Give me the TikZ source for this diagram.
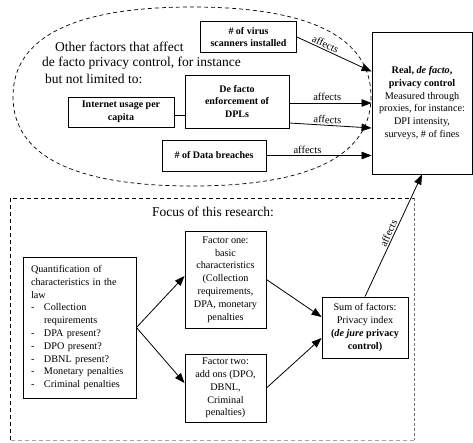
\documentclass[tikz,border=0pt]{standalone}
\usepackage{fontspec}
\setmainfont{Liberation Serif}
\usetikzlibrary{arrows.meta,calc}
\begin{document}
\begin{tikzpicture}[x=1pt,y=-1pt,
  box/.style={draw, line width=0.9pt, fill=white, inner sep=0pt, align=center},
  bbox/.style={box, font=\fontsize{10}{12.5}\selectfont\bfseries},
  rbox/.style={box, font=\fontsize{10.2}{12.8}\selectfont},
  arr/.style={line width=0.8pt, -{Triangle[length=10pt,width=7.5pt]}},
  lab/.style={font=\fontsize{10.5}{12}\selectfont, inner sep=1.5pt},
  big/.style={font=\fontsize{13.5}{16}\selectfont, inner sep=0pt, anchor=west},
  ell/.style={line width=0.7pt, dash pattern=on 4pt off 3pt},
]
\useasboundingbox (0,0) rectangle (473,442);

% dashed ellipse
\draw[ell] (371,96.5) .. controls (371,155.6) and (310.1,186) .. (192,186)
  .. controls (73.9,186) and (13,155.6) .. (13,96.5)
  .. controls (13,37.4) and (73.9,7) .. (192,7)
  .. controls (310.1,7) and (371,37.4) .. (371,96.5) -- cycle;

% text inside ellipse
\node[big] (o1) at (55,47) {Other factors that affect};
\node[big] (o2) at (42,63) {de facto privacy control, for instance};
\node[big] (o3) at (45,79) {but not limited to:};

% top boxes
\node[bbox, minimum width=96pt, minimum height=31pt] (virus) at (248.5,37) {\# of virus\\scanners installed};
\node[bbox, minimum width=104pt, minimum height=53pt] (defacto) at (237,101.5) {De facto\\enforcement of\\DPLs};
\node[bbox, minimum width=106pt, minimum height=30pt] (internet) at (121,112) {Internet usage per\\capita};
\node[bbox, minimum width=104pt, minimum height=31pt] (breaches) at (214,155.5) {\# of Data breaches};
\node[rbox, minimum width=100pt, minimum height=142pt] (real) at (422,103)
  {\textbf{Real, \textit{de facto},}\\\textbf{privacy control}\\Measured through\\proxies, for instance:\\DPI intensity,\\surveys, \# of fines};

% helper coordinates
\coordinate (ie) at ($(internet.east)+(0,3)$);
\coordinate (iw) at (ie -| defacto.west);
\coordinate (d1) at ($(defacto.east)+(0,1.5)$);
\coordinate (r1) at (d1 -| real.west);
\coordinate (d2) at ($(defacto.east)+(0,21.5)$);
\coordinate (r2) at ($(real.west)+(0,25)$);
\coordinate (r0) at ($(real.north west)+(0,40)$);
\coordinate (r3) at (breaches.east -| real.west);

% top connectors
\draw[line width=0.8pt] (ie) -- (iw);
\draw[arr] (virus.east) -- node[lab, sloped, above, pos=0.35] (l1) {affects} (r0);
\draw[arr] (d1) -- node[lab, above, pos=0.46] (l2) {affects} (r1);
\draw[arr] (d2) -- node[lab, sloped, above, pos=0.46] (l3) {affects} (r2);
\draw[arr] (breaches.east) -- node[lab, above, pos=0.39] (l4) {affects} (r3);

% focus dashed rectangle
\draw[line width=0.7pt, dash pattern=on 4pt off 3pt] (10,440) -- (10,198) -- (414,198);
\draw[line width=0.8pt, black!55, dash pattern=on 3pt off 2pt] (414,198) -- (414,440);
\draw[line width=0.7pt, black!35, dash pattern=on 4pt off 3pt] (414,440) -- (10,440);
\node[font=\fontsize{13.5}{16}\selectfont, inner sep=0pt] (focus) at (213,212) {Focus of this research:};

% bottom boxes
\node[rbox, align=left, text width=97pt, inner xsep=8pt, minimum height=141pt] (quant) at (79.5,327.5)
  {Quantification of\\characteristics in the\\law\\
   \makebox[13pt][l]{-}Collection\\
   \hspace*{13pt}requirements\\
   \makebox[13pt][l]{-}DPA present?\\
   \makebox[13pt][l]{-}DPO present?\\
   \makebox[13pt][l]{-}DBNL present?\\
   \makebox[13pt][l]{-}Monetary penalties\\
   \makebox[13pt][l]{-}Criminal penalties};
\node[rbox, minimum width=81pt, minimum height=97pt] (f1) at (225.5,279.5)
  {Factor one:\\basic\\characteristics\\(Collection\\requirements,\\DPA, monetary\\penalties};
\node[rbox, minimum width=81pt, minimum height=68pt] (f2) at (225.5,388)
  {Factor two:\\add ons (DPO,\\DBNL,\\Criminal\\penalties)};
\node[rbox, minimum width=86pt, minimum height=61pt] (sum) at (365,327.5)
  {Sum of factors:\\Privacy index\\\textbf{(\textit{de jure} privacy}\\\textbf{control)}};

% bottom connectors
\draw[arr] (quant.east) -- ($(f1.west)+(0,-3.5)$);
\draw[arr] (quant.east) -- ($(f2.west)+(0,-5)$);
\draw[arr] (f1.east) -- ($(sum.west)+(0,-10.5)$);
\draw[arr] (f2.east) -- ($(sum.west)+(0,10.5)$);
\draw[arr] (sum.north) -- node[lab, sloped, above] (l5) {affects} (real.south);
\end{tikzpicture}
\end{document}
